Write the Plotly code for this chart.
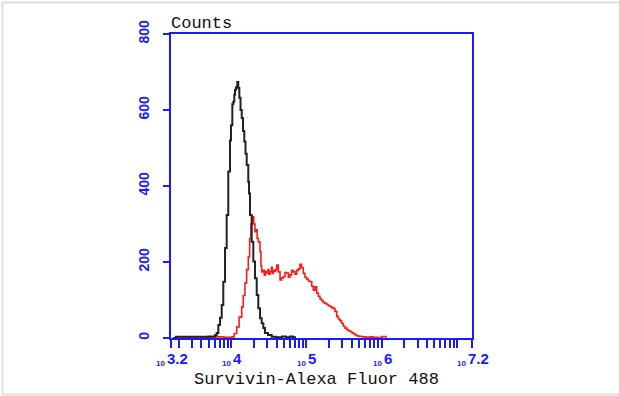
import plotly.graph_objects as go

# Exponents (log10 of fluorescence intensity) and counts
black_exp = [3.227, 3.266, 3.452, 3.585, 3.692, 3.762, 3.785, 3.807, 3.829, 3.851, 3.874, 3.895,
             3.918, 3.940, 3.961, 3.984, 3.997, 4.015, 4.028, 4.041, 4.051, 4.064, 4.081, 4.094,
             4.108, 4.124, 4.140, 4.157, 4.174, 4.190, 4.206, 4.227, 4.237, 4.250, 4.272, 4.294,
             4.316, 4.339, 4.360, 4.383, 4.405, 4.427, 4.449, 4.489, 4.538, 4.595, 4.675, 4.728,
             4.781, 4.821, 4.848]
black_cnt = [0, 3, 3, 3, 4, 4, 8, 13, 34, 53, 87, 148,
             237, 324, 438, 520, 560, 615, 622, 640, 653, 660, 674, 658,
             632, 600, 579, 545, 517, 485, 455, 411, 380, 324, 253, 201,
             157, 113, 78, 52, 39, 26, 13, 8, 3, 2, 4, 2,
             4, 2, 0]

red_exp = [3.253, 3.45, 3.60, 3.75, 3.90, 4.011, 4.040, 4.073, 4.105, 4.140, 4.160, 4.183, 4.205,
           4.227, 4.245, 4.263, 4.286, 4.300, 4.316, 4.330, 4.345, 4.360, 4.383, 4.395, 4.405,
           4.420, 4.440, 4.455, 4.472, 4.490, 4.500, 4.516, 4.535, 4.545, 4.559, 4.575, 4.590,
           4.605, 4.626, 4.649, 4.670, 4.692, 4.715, 4.738, 4.760, 4.781, 4.803, 4.825, 4.848,
           4.870, 4.892, 4.914, 4.936, 4.958, 4.980, 5.003, 5.025, 5.047, 5.070, 5.091, 5.114,
           5.136, 5.158, 5.180, 5.202, 5.224, 5.246, 5.269, 5.291, 5.313, 5.335, 5.357, 5.379,
           5.402, 5.424, 5.446, 5.468, 5.490, 5.513, 5.535, 5.557, 5.579, 5.601, 5.623, 5.646,
           5.668, 5.690, 5.712, 5.750, 5.791, 5.840, 5.884, 5.951, 5.985, 6.004, 6.044, 6.057]
red_cnt = [2, 3, 2, 3, 2, 3, 12, 29, 55, 82, 112, 145, 180,
           213, 262, 300, 319, 300, 280, 285, 262, 253, 227, 190, 174,
           178, 165, 175, 171, 180, 168, 174, 186, 170, 178, 175, 180,
           192, 174, 153, 158, 161, 172, 171, 160, 166, 178, 174, 168,
           178, 182, 194, 185, 170, 160, 155, 150, 148, 136, 126, 135,
           118, 110, 103, 98, 93, 91, 88, 85, 83, 80, 78, 70,
           57, 50, 45, 38, 31, 26, 22, 19, 17, 14, 11, 8,
           6, 5, 4, 3, 2, 3, 2, 0, 2, 4, 4, 0]

y_ticks = [0, 200, 400, 600, 800]
x_label_exp = [3.2, 4, 5, 6, 7.2]
x_label_text = ["3.2", "4", "5", "6", "7.2"]
x_label_base = "10"
x_title = "Survivin-Alexa Fluor 488"
y_title = "Counts"

BLUE = "#1a1aff"

# tick positions: log minor ticks
tick_vals = [10 ** 3.2]
for dec in range(3, 8):
    for m in range(1, 10):
        v = m * 10 ** dec
        if 10 ** 3.2 <= v <= 10 ** 7.2:
            tick_vals.append(v)
tick_vals.append(10 ** 7.2)

fig = go.Figure()
fig.add_trace(go.Scatter(x=[10 ** e for e in red_exp], y=red_cnt, mode="lines",
                         line=dict(color="#ff1a1a", width=1.6, shape="hv"), showlegend=False))
fig.add_trace(go.Scatter(x=[10 ** e for e in black_exp], y=black_cnt, mode="lines",
                         line=dict(color="#222222", width=2, shape="hv"), showlegend=False))

fig.update_xaxes(type="log", range=[3.2, 7.2], tickvals=tick_vals, showticklabels=False,
                 ticks="outside", ticklen=8, tickwidth=2, tickcolor=BLUE,
                 showline=True, linecolor=BLUE, linewidth=2, mirror=True,
                 showgrid=False, zeroline=False)
fig.update_yaxes(range=[0, 800], tickvals=y_ticks, ticks="outside", ticklen=6, tickwidth=2,
                 tickcolor=BLUE, showline=True, linecolor=BLUE, linewidth=2, mirror=True,
                 showgrid=False, zeroline=False, tickangle=-90, ticklabelstandoff=8,
                 tickfont=dict(family="Liberation Sans", size=14, color=BLUE, weight="bold"))

EXP_SIZE = 15
for e, t in zip(x_label_exp, x_label_text):
    w = sum(4.2 if ch == "." else 8.3 for ch in t)
    split = 5 - w / 2
    fig.add_annotation(x=e, y=-0.084, xref="x", yref="paper", showarrow=False,
                       xanchor="right", yanchor="middle", xshift=split + 1, text=x_label_base,
                       font=dict(family="Liberation Sans", size=8, color=BLUE, weight="bold"))
    fig.add_annotation(x=e, y=-0.066, xref="x", yref="paper", showarrow=False,
                       xanchor="left", yanchor="middle", xshift=split - 1, text=t,
                       font=dict(family="Liberation Sans", size=EXP_SIZE, color=BLUE, weight="bold"))

fig.add_annotation(x=0.482, y=-0.138, xref="paper", yref="paper", showarrow=False,
                   xanchor="center", yanchor="middle", text=x_title,
                   font=dict(family="Liberation Mono", size=17, color="#111111"))
fig.add_annotation(x=-0.008, y=1.035, xref="paper", yref="paper", showarrow=False,
                   xanchor="left", yanchor="middle", text=y_title,
                   font=dict(family="Liberation Mono", size=17, color="#111111"))

fig.add_shape(type="rect", xref="paper", yref="paper",
              x0=(2.5 - 171) / 301, x1=(625 - 171) / 301,
              y0=(338 - 394.5) / 304, y1=(338 - 2.5) / 304,
              line=dict(color="#dddddd", width=2), fillcolor="rgba(0,0,0,0)", layer="below")

fig.update_layout(width=619, height=396, autosize=False,
                  margin=dict(l=171, r=147, t=34, b=58),
                  paper_bgcolor="white", plot_bgcolor="white")

fig.write_html("out.html", config={"displayModeBar": False},
               post_script="document.body.style.margin='0';document.body.style.overflow='hidden';")
